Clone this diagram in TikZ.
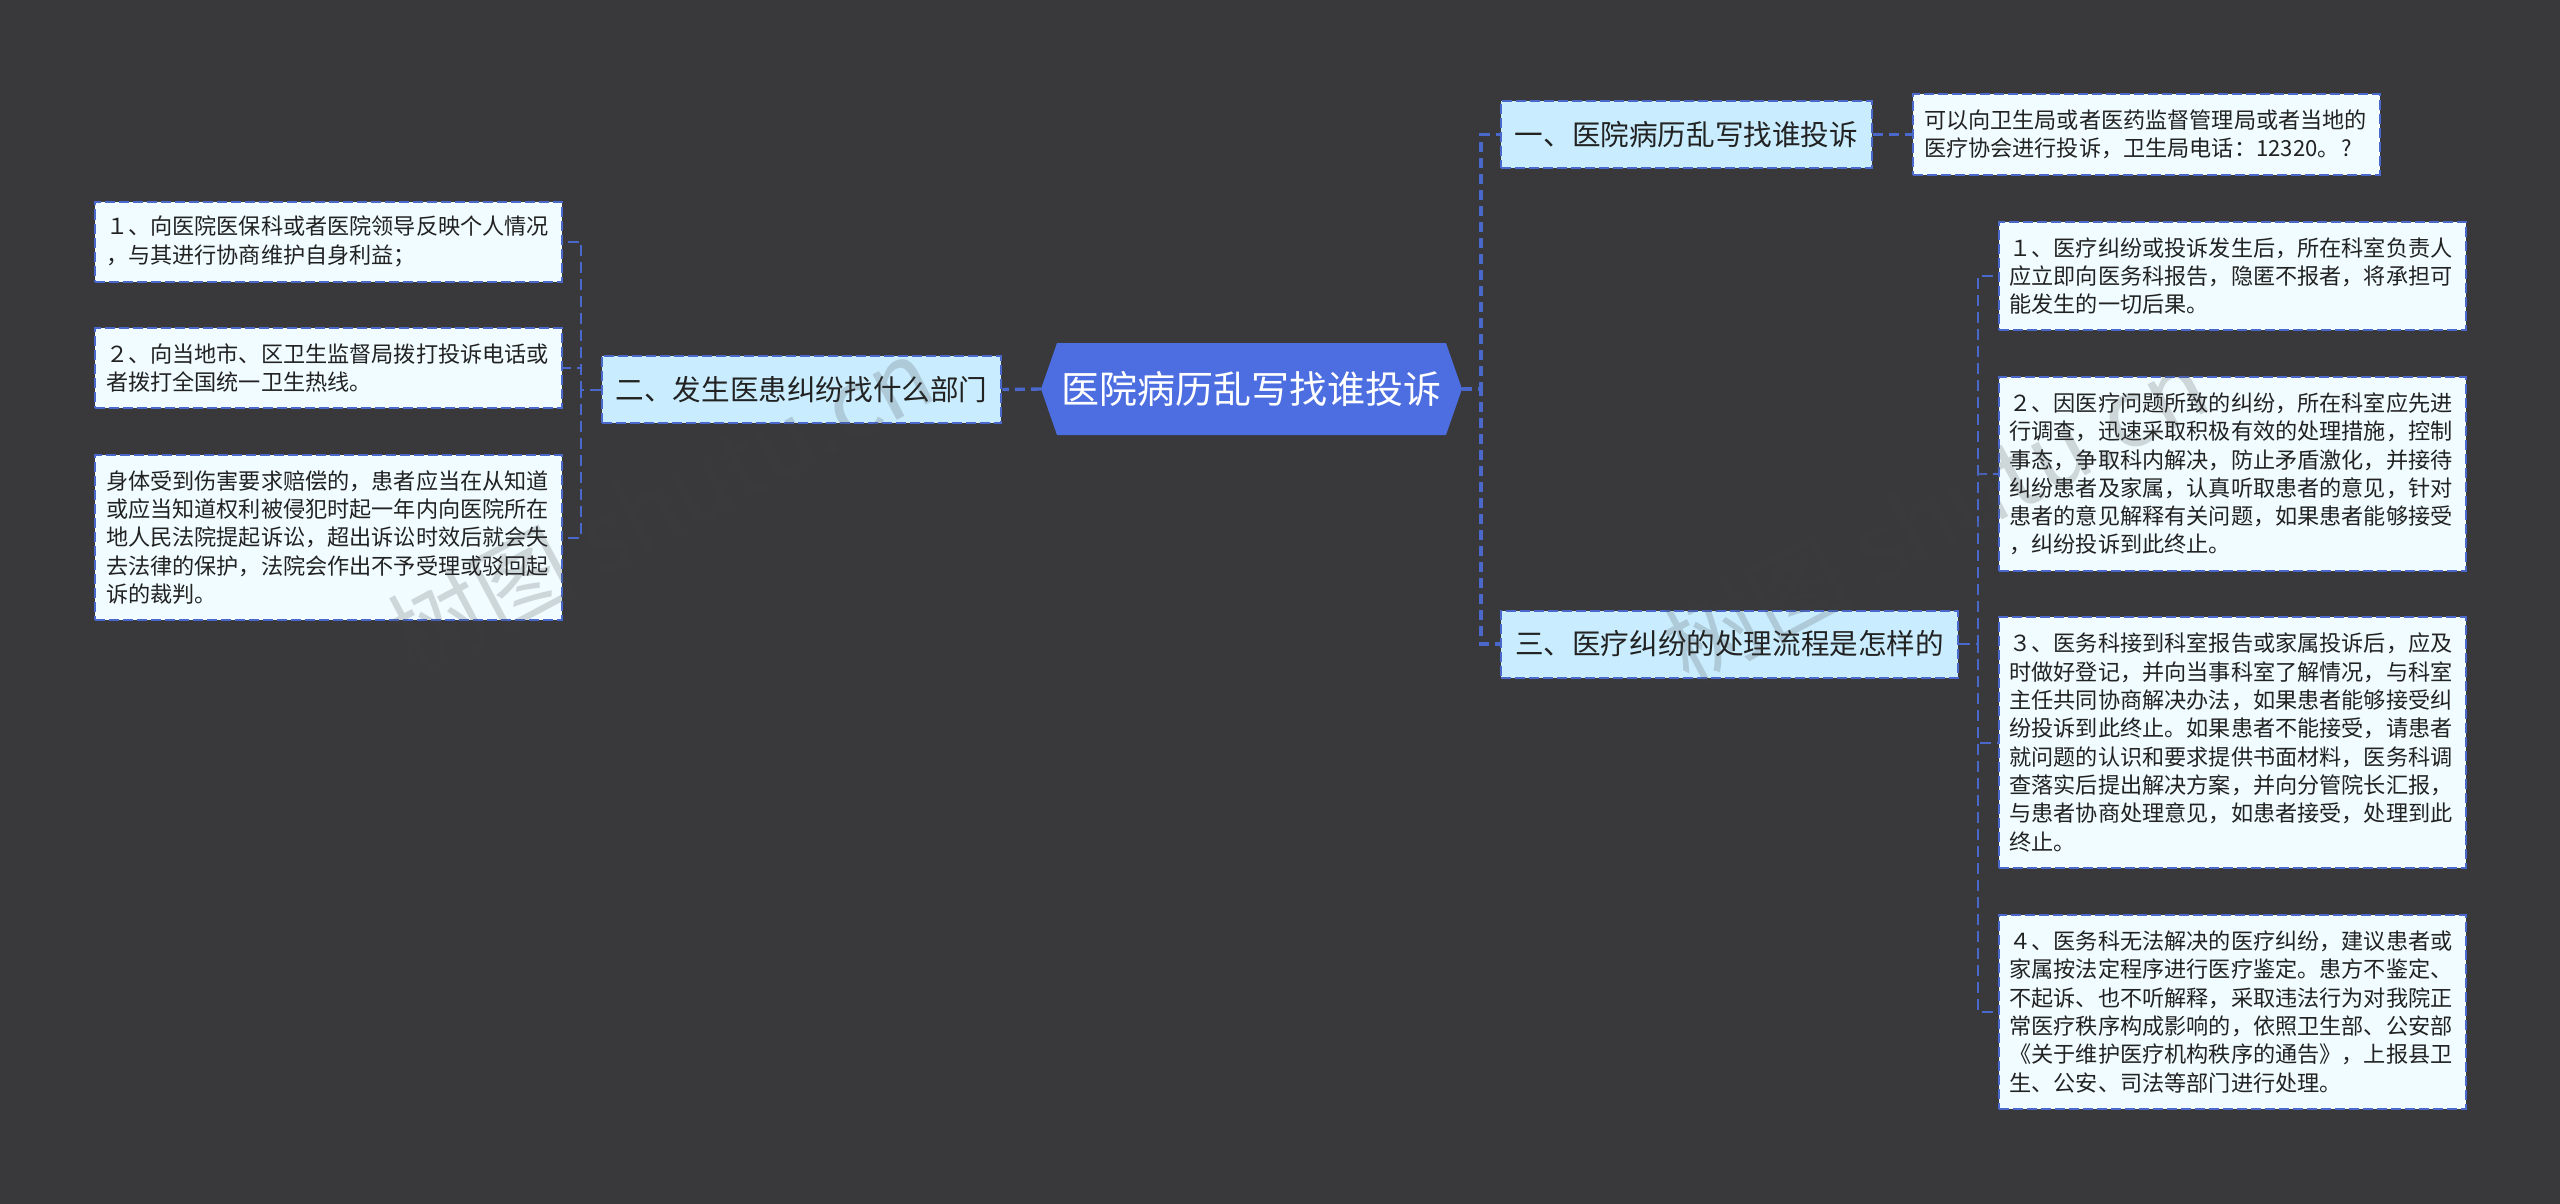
\documentclass[tikz,border=0pt]{standalone}
\usepackage{fontspec}
\setmainfont{Noto Sans CJK SC}
\definecolor{bgc}{HTML}{39383A}
\definecolor{rootc}{HTML}{4C6EE0}
\definecolor{linec}{HTML}{4A68CC}
\definecolor{leafc}{HTML}{F0FCFF}
\definecolor{branchc}{HTML}{C9EDFE}
\definecolor{txt}{HTML}{222222}
\definecolor{wmc}{HTML}{424244}
\tikzset{
  leafbox/.style={rectangle,draw=linec,fill=leafc,line width=2pt,dash pattern=on 10pt off 4pt,
    text=txt,text width=445pt,inner xsep=11pt,inner ysep=0pt,align=left,
    font=\fontsize{22.15}{28.3}\selectfont},
  branchbox/.style={rectangle,draw=linec,fill=branchc,line width=2pt,dash pattern=on 10pt off 4pt,
    text=txt,inner xsep=14pt,inner ysep=0pt,minimum height=67pt,
    font=\fontsize{28.6}{34}\selectfont},
  rootbox/.style={rectangle,inner sep=0pt,minimum width=421pt,minimum height=92pt,text=white,
    font=\fontsize{38}{44}\selectfont},
  linkA/.style={draw=linec,line width=3.4pt,dash pattern=on 10pt off 6pt},
  linkB/.style={draw=linec,line width=2pt,dash pattern=on 11pt off 6pt},
  wmark/.style={rotate=28,text=wmc,text opacity=.2,font=\fontsize{95}{100}\selectfont}
}
\begin{document}
\begin{tikzpicture}[x=1pt,y=-1pt]
\useasboundingbox (0,0) rectangle (2560,1204);
\fill[bgc] (0,0) rectangle (2560,1204);
\coordinate (spA) at (1481,0);
\coordinate (spB) at (1978,0);
\coordinate (spC) at (581,0);
\fill[rootc] (1041,389) -- (1057,343) -- (1446,343) -- (1462,389) -- (1446,435) -- (1057,435) -- cycle;
\node[rootbox] (root) at (1251.5,389) {医院病历乱写找谁投诉};
\node[branchbox] (b1) at (1686.5,134.5) {一、医院病历乱写找谁投诉};
\node[branchbox] (b2) at (801.5,389.5) {二、发生医患纠纷找什么部门};
\node[branchbox] (b3) at (1729.5,644) {三、医疗纠纷的处理流程是怎样的};
\node[leafbox,minimum height=81pt] (a1) at (2146.5,134.5) {可以向卫生局或者医药监督管理局或者当地的\\医疗协会进行投诉，卫生局电话：12320。\hspace{2pt}?};
\node[leafbox,minimum height=108pt] (r1) at (2232,276) {１、医疗纠纷或投诉发生后，所在科室负责人\\应立即向医务科报告，隐匿不报者，将承担可\\能发生的一切后果。};
\node[leafbox,minimum height=194pt] (r2) at (2232,474) {２、因医疗问题所致的纠纷，所在科室应先进\\行调查，迅速采取积极有效的处理措施，控制\\事态，争取科内解决，防止矛盾激化，并接待\\纠纷患者及家属，认真听取患者的意见，针对\\患者的意见解释有关问题，如果患者能够接受\\，纠纷投诉到此终止。};
\node[leafbox,minimum height=251pt] (r3) at (2232,742.5) {３、医务科接到科室报告或家属投诉后，应及\\时做好登记，并向当事科室了解情况，与科室\\主任共同协商解决办法，如果患者能够接受纠\\纷投诉到此终止。如果患者不能接受，请患者\\就问题的认识和要求提供书面材料，医务科调\\查落实后提出解决方案，并向分管院长汇报，\\与患者协商处理意见，如患者接受，处理到此\\终止。};
\node[leafbox,minimum height=194pt] (r4) at (2232,1012) {４、医务科无法解决的医疗纠纷，建议患者或\\家属按法定程序进行医疗鉴定。患方不鉴定、\\不起诉、也不听解释，采取违法行为对我院正\\常医疗秩序构成影响的，依照卫生部、公安部\\《关于维护医疗机构秩序的通告》，上报县卫\\生、公安、司法等部门进行处理。};
\node[leafbox,minimum height=80pt] (l1) at (328.5,241.5) {１、向医院医保科或者医院领导反映个人情况\\，与其进行协商维护自身利益；};
\node[leafbox,minimum height=80pt] (l2) at (328.5,368) {２、向当地市、区卫生监督局拨打投诉电话或\\者拨打全国统一卫生热线。};
\node[leafbox,minimum height=165pt] (l3) at (328.5,537.5) {身体受到伤害要求赔偿的，患者应当在从知道\\或应当知道权利被侵犯时起一年内向医院所在\\地人民法院提起诉讼，超出诉讼时效后就会失\\去法律的保护，法院会作出不予受理或驳回起\\诉的裁判。};
% connectors
\draw[linkA] (root.east) -- (root.east -| spA) |- (b1.west);
\draw[linkA] (root.east) -- (root.east -| spA) |- (b3.west);
\draw[linkA] (root.west) -- (b2.east);
\draw[linkA] (b1.east) -- (a1.west);
\draw[linkB] (b3.east) -- (b3.east -| spB) |- (r1.west);
\draw[linkB] (b3.east) -- (b3.east -| spB) |- (r2.west);
\draw[linkB] (b3.east) -- (b3.east -| spB) |- (r3.west);
\draw[linkB] (b3.east) -- (b3.east -| spB) |- (r4.west);
\draw[linkB] (b2.west) -- (b2.west -| spC) |- (l1.east);
\draw[linkB] (b2.west) -- (b2.west -| spC) |- (l2.east);
\draw[linkB] (b2.west) -- (b2.west -| spC) |- (l3.east);
% watermarks
\node[wmark] (wm1) at (660,505) {树图 shutu.cn};
\node[wmark] (wm2) at (1935,515) {树图 shutu.cn};
\end{tikzpicture}
\end{document}
